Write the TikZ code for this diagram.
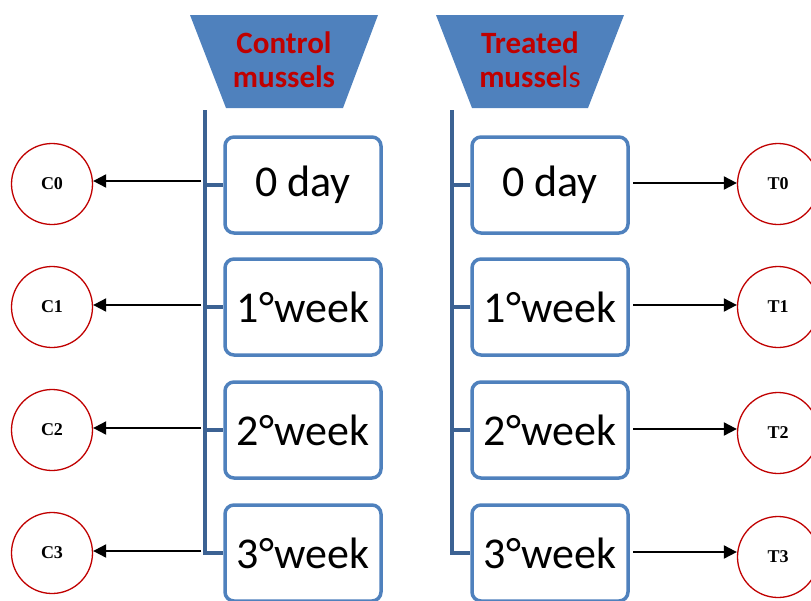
\documentclass[tikz,border=0pt]{standalone}
\usepackage{fontspec}
\setmainfont{Carlito}
\newfontfamily\serifbold{Liberation Serif}
\usetikzlibrary{arrows.meta}
\definecolor{boxblue}{RGB}{79,129,189}
\definecolor{barblue}{RGB}{60,98,147}
\definecolor{darkred}{RGB}{192,0,0}
\tikzset{
  stagebox/.style={draw=boxblue, line width=3.5pt, rounded corners=9pt, fill=white,
    minimum width=156pt, minimum height=96pt, inner sep=0pt, font=\fontsize{44}{48}\selectfont},
  sample/.style={circle, draw=darkred, line width=1.3pt, minimum size=81pt, inner sep=0pt,
    font=\serifbold\bfseries\fontsize{18}{19}\selectfont},
  bar/.style={draw=barblue, line width=4.5pt},
  conn/.style={draw=black, line width=2pt, -{Triangle[length=13pt,width=13pt]}},
  trap/.style={fill=boxblue},
  head/.style={text=darkred, font=\bfseries\fontsize{31}{34}\selectfont, align=center}
}
\begin{document}
\begin{tikzpicture}[x=1pt,y=-1pt]
\useasboundingbox (0,0) rectangle (811,600);
% trapezoids
\path[trap] (190,15) -- (378,15) -- (343,108) -- (226,108) -- cycle;
\path[trap] (436,15) -- (624,15) -- (588,108) -- (472,108) -- cycle;
\node[head] (hc) at (284,60) {Control\\mussels};
\node[head] (ht) at (530,60) {Treated\\musse{\mdseries ls}};
% boxes
\node[stagebox] (c0) at (303,185) {0 day};
\node[stagebox] (c1) at (303,307) {1°week};
\node[stagebox] (c2) at (303,430) {2°week};
\node[stagebox] (c3) at (303,553) {3°week};
\node[stagebox] (t0) at (550,185) {0 day};
\node[stagebox] (t1) at (550,307) {1°week};
\node[stagebox] (t2) at (550,430) {2°week};
\node[stagebox] (t3) at (550,553) {3°week};
% bars
\coordinate (lb) at (205,110);
\coordinate (rb) at (452,110);
\draw[bar] (lb) |- (c3.west);
\draw[bar] (rb) |- (t3.west);
\foreach \i in {0,1,2}{
  \draw[bar] (lb |- c\i.west) -- (c\i.west);
  \draw[bar] (rb |- t\i.west) -- (t\i.west);
}
% circles
\node[sample] (C0) at (52,184) {C0};
\node[sample] (C1) at (52,307) {C1};
\node[sample] (C2) at (52,430) {C2};
\node[sample] (C3) at (52,553) {C3};
\node[sample] (T0) at (778,184) {T0};
\node[sample] (T1) at (778,307) {T1};
\node[sample] (T2) at (778,433) {T2};
\node[sample] (T3) at (778,557) {T3};
% arrows
\foreach \i/\y in {0/181,1/305,2/428,3/551}{
  \coordinate (ls\i) at (201,\y);
  \draw[conn] (ls\i) -- (C\i.east |- ls\i);
}
\foreach \i/\y in {0/183,1/305,2/429,3/552}{
  \coordinate (rs\i) at (633,\y);
  \draw[conn] (rs\i) -- (T\i.west |- rs\i);
}
\end{tikzpicture}
\end{document}
